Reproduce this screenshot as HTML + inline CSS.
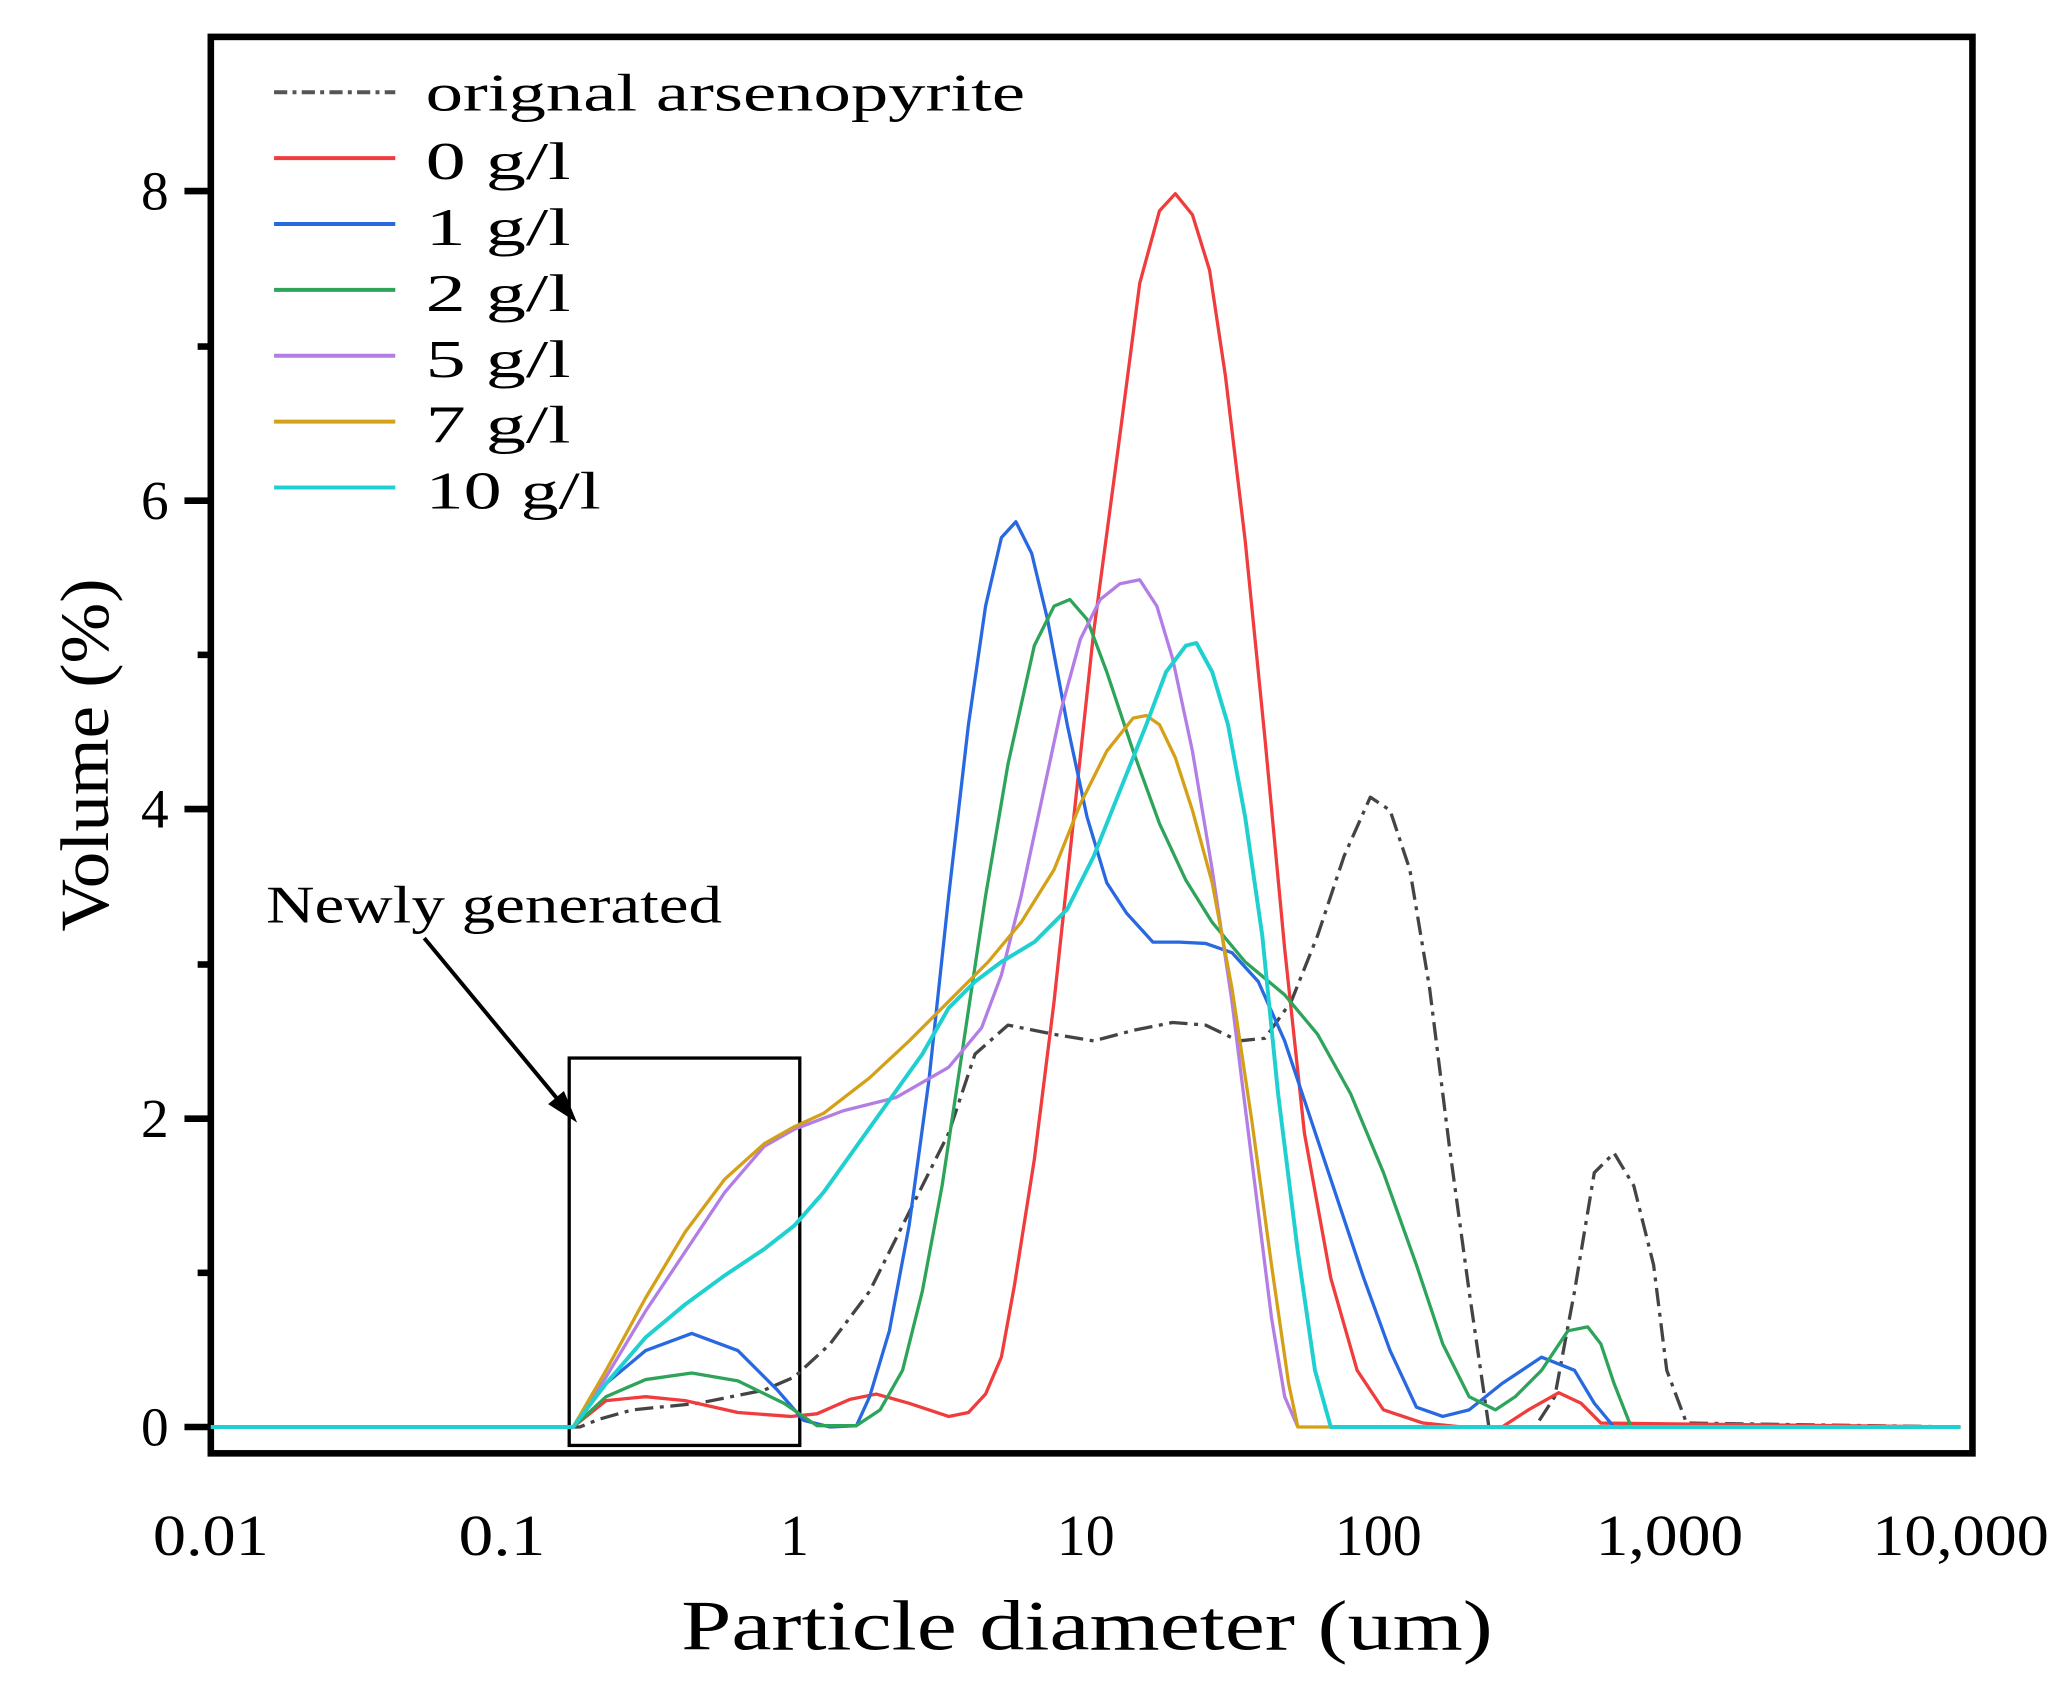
<!DOCTYPE html>
<html><head><meta charset="utf-8"><style>
html,body{margin:0;padding:0;background:#fff;}
svg{display:block;}
text{font-family:"Liberation Serif","Noto Serif CJK SC",serif;fill:#000;}
</style></head><body>
<svg width="2066" height="1695" viewBox="0 0 1568 1286.4" preserveAspectRatio="none" xmlns="http://www.w3.org/2000/svg">
<rect x="0" y="0" width="1568" height="1286.4" fill="#fff"/>
<!-- frame -->
<rect x="160" y="28" width="1337" height="1075" fill="none" stroke="#000" stroke-width="5"/>
<!-- y ticks -->
<g stroke="#000" stroke-width="5">
<line x1="140" y1="1083" x2="160" y2="1083"/><line x1="140" y1="849" x2="160" y2="849"/>
<line x1="140" y1="614" x2="160" y2="614"/><line x1="140" y1="380" x2="160" y2="380"/>
<line x1="140" y1="145" x2="160" y2="145"/>
<line x1="150" y1="966" x2="160" y2="966"/><line x1="150" y1="732" x2="160" y2="732"/>
<line x1="150" y1="497" x2="160" y2="497"/><line x1="150" y1="263" x2="160" y2="263"/>
</g>
<g stroke="#000" stroke-width="3" id="xt"></g>
<!-- y labels -->
<g font-size="42" text-anchor="end">
<text x="128" y="1097">0</text><text x="128" y="863">2</text><text x="128" y="628">4</text>
<text x="128" y="394">6</text><text x="128" y="159">8</text>
</g>
<g font-size="44" text-anchor="middle">
<text x="160" y="1180" textLength="88" lengthAdjust="spacingAndGlyphs">0.01</text>
<text x="381" y="1180" textLength="66" lengthAdjust="spacingAndGlyphs">0.1</text>
<text x="603" y="1180">1</text>
<text x="824" y="1180">10</text>
<text x="1046" y="1180">100</text>
<text x="1267" y="1180" textLength="112" lengthAdjust="spacingAndGlyphs">1,000</text>
<text x="1488" y="1180" textLength="134" lengthAdjust="spacingAndGlyphs">10,000</text>
</g>
<text x="517" y="1252" font-size="54" textLength="616" lengthAdjust="spacingAndGlyphs">Particle diameter (um)</text>
<text transform="translate(82,707) rotate(-90)" font-size="52" textLength="268" lengthAdjust="spacingAndGlyphs">Volume (%)</text>
<!-- legend -->
<g stroke-width="3" fill="none">
<line x1="208" y1="70" x2="300" y2="70" stroke="#555" stroke-dasharray="10,4,3,4"/>
<line x1="208" y1="120" x2="300" y2="120" stroke="#f03c3c"/>
<line x1="208" y1="170" x2="300" y2="170" stroke="#2868e0"/>
<line x1="208" y1="220" x2="300" y2="220" stroke="#2ea35a"/>
<line x1="208" y1="270" x2="300" y2="270" stroke="#b27ee6"/>
<line x1="208" y1="320" x2="300" y2="320" stroke="#d4a017"/>
<line x1="208" y1="370" x2="300" y2="370" stroke="#20d0d0"/>
</g>
<g font-size="40">
<text x="323" y="84" textLength="455" lengthAdjust="spacingAndGlyphs">orignal arsenopyrite</text>
<text x="323" y="136" textLength="110" lengthAdjust="spacingAndGlyphs">0 g/l</text>
<text x="323" y="186" textLength="110" lengthAdjust="spacingAndGlyphs">1 g/l</text>
<text x="323" y="236" textLength="110" lengthAdjust="spacingAndGlyphs">2 g/l</text>
<text x="323" y="286" textLength="110" lengthAdjust="spacingAndGlyphs">5 g/l</text>
<text x="323" y="336" textLength="110" lengthAdjust="spacingAndGlyphs">7 g/l</text>
<text x="323" y="386" textLength="133" lengthAdjust="spacingAndGlyphs">10 g/l</text>
</g>
<text x="202" y="700" font-size="40" textLength="346" lengthAdjust="spacingAndGlyphs">Newly generated</text>
<line x1="322" y1="712" x2="428" y2="840" stroke="#000" stroke-width="3"/>
<polygon points="438,852 416,838 428,828" fill="#000"/>
<rect x="432" y="803" width="175" height="294" fill="none" stroke="#000" stroke-width="2.5"/>
<!-- series -->
<g fill="none" stroke-width="2.5" stroke-linejoin="round">
<polyline stroke="#444" stroke-dasharray="14,5,3,5" points="160,1083 440,1083 455,1077 480,1070 530,1065 580,1055 603,1045 630,1020 660,980 690,920 720,860 740,800 765,778 800,785 830,790 860,782 890,776 915,778 940,790 960,788 980,760 1000,710 1020,650 1040,605 1055,615 1070,660 1085,750 1100,870 1115,980 1130,1083 1165,1083 1180,1060 1195,980 1210,890 1225,875 1240,900 1255,960 1265,1040 1280,1080 1488,1083"/>
<polyline stroke="#f03c3c" points="160,1083 435,1083 460,1063 490,1060 520,1063 560,1072 600,1075 620,1073 645,1062 665,1058 690,1065 720,1075 735,1072 748,1058 760,1030 770,975 785,880 800,760 815,620 830,480 850,330 865,215 880,160 892,147 905,163 918,205 930,285 945,410 960,560 975,720 990,860 1010,970 1030,1040 1050,1070 1080,1080 1110,1083 1140,1083 1160,1070 1183,1057 1200,1065 1215,1080 1488,1083"/>
<polyline stroke="#2868e0" points="435,1083 460,1050 490,1025 525,1012 560,1025 590,1055 610,1078 630,1083 650,1082 660,1060 675,1010 690,930 705,820 720,680 735,550 748,460 760,408 771,396 783,420 795,470 810,550 825,620 840,670 855,693 875,715 895,715 915,716 935,723 955,745 975,790 995,850 1015,910 1035,970 1055,1025 1075,1068 1095,1075 1115,1070 1140,1050 1170,1030 1195,1040 1210,1065 1225,1083"/>
<polyline stroke="#2ea35a" points="435,1083 460,1060 490,1047 525,1042 560,1048 595,1065 620,1082 650,1082 668,1070 685,1040 700,980 715,900 730,800 748,680 765,580 785,490 800,460 812,455 825,470 840,510 860,570 880,625 900,668 920,700 945,730 975,755 1000,785 1025,830 1050,890 1075,960 1095,1020 1115,1060 1135,1070 1150,1060 1170,1040 1190,1010 1205,1007 1215,1020 1225,1050 1238,1083"/>
<polyline stroke="#b27ee6" points="435,1083 460,1045 490,995 520,950 550,905 580,870 603,857 640,843 680,833 720,810 745,780 760,740 775,680 790,610 805,540 820,485 835,455 850,443 865,440 878,460 890,500 905,570 920,660 935,760 950,880 965,1000 975,1060 985,1083"/>
<polyline stroke="#d4a017" points="435,1083 460,1040 490,985 520,935 550,895 580,868 603,855 625,845 660,818 690,790 720,760 750,730 775,700 800,660 820,610 840,570 860,545 870,543 880,550 892,575 905,615 920,670 935,750 950,850 965,960 978,1050 985,1083 1010,1083"/>
<polyline stroke="#20d0d0" stroke-width="3" points="160,1083 435,1083 460,1050 490,1015 520,990 550,968 580,948 603,930 625,905 650,870 675,835 700,800 720,765 740,745 760,730 785,715 810,690 830,650 850,600 870,550 885,510 900,490 908,488 920,510 932,550 945,620 958,710 970,830 985,950 998,1040 1010,1083 1488,1083"/>
</g>
<script>
(function(){
var g=document.getElementById('xt'),ns='http://www.w3.org/2000/svg',s='';
for(var d=0;d<7;d++){var x0=160+d*221.33;
 s+='<line x1="'+x0+'" y1="1103" x2="'+x0+'" y2="1135" stroke-width="5"/>';
 if(d<6)for(var k=2;k<10;k++){var x=x0+Math.log10(k)*221.33;s+='<line x1="'+x+'" y1="1103" x2="'+x+'" y2="1118"/>';}}
g.innerHTML=s;})();
</script>
</svg>
</body></html>
